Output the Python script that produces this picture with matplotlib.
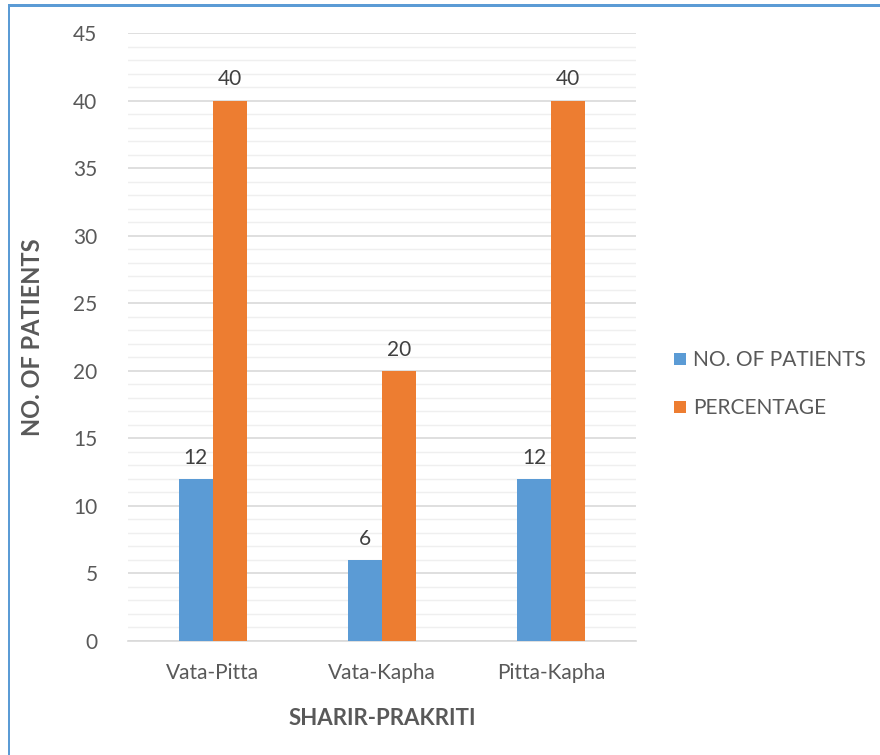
import matplotlib.pyplot as plt
import numpy as np
from matplotlib.patches import Rectangle

plt.rcParams['font.family'] = ['Lato', 'DejaVu Sans']

categories = ['Vata-Pitta', 'Vata-Kapha', 'Pitta-Kapha']
patients = [12, 6, 12]
percentage = [40, 20, 40]
series_names = ['NO. OF PATIENTS', 'PERCENTAGE']

blue = '#5b9bd5'
orange = '#ed7d31'
text_grey = '#595959'

fig = plt.figure(figsize=(8.8, 7.55), dpi=100)
ax = fig.add_axes([128 / 880, 1 - 641 / 755, (636 - 128) / 880, (641 - 33) / 755])

x = np.arange(len(categories))
w = 0.2
b1 = ax.bar(x - w / 2, patients, w, color=blue, label=series_names[0], zorder=3)
b2 = ax.bar(x + w / 2, percentage, w, color=orange, label=series_names[1], zorder=3)

for bars, vals in ((b1, patients), (b2, percentage)):
    for r, v in zip(bars, vals):
        ax.annotate(str(v), (r.get_x() + r.get_width() / 2, v), xytext=(0, 8),
                    textcoords='offset points', ha='center', va='bottom',
                    fontsize=15, color='#404040')

ax.set_xlim(-0.5, 2.5)
ax.set_ylim(0, 45)
ax.set_yticks(np.arange(0, 46, 5))
ax.set_yticks(np.arange(0, 46, 1), minor=True)
ax.set_xticks(x)
ax.set_xticklabels(categories)
ax.grid(axis='y', which='major', color='#d9d9d9', linewidth=1.2, zorder=0)
ax.grid(axis='y', which='minor', color='#efefef', linewidth=1.0, zorder=0)
ax.tick_params(axis='both', which='both', length=0, labelsize=15, colors=text_grey)
ax.tick_params(axis='y', pad=22)
ax.tick_params(axis='x', pad=16)
for s in ('top', 'right', 'left'):
    ax.spines[s].set_visible(False)
ax.spines['bottom'].set_color('#d9d9d9')
ax.spines['bottom'].set_linewidth(1.2)

ax.set_ylabel('NO. OF PATIENTS', fontsize=17, fontweight='bold', color=text_grey)
ax.yaxis.set_label_coords(-0.165, 0.5)
ax.set_xlabel('SHARIR-PRAKRITI', fontsize=16, fontweight='bold', color=text_grey)
ax.xaxis.set_label_coords(0.5, -0.11)

fig.legend(handles=[b1, b2], loc='upper left', bbox_to_anchor=(668 / 880, 1 - 344 / 755),
           frameon=False, fontsize=15, labelcolor=text_grey, handlelength=0.55,
           handleheight=0.55, handletextpad=0.35, labelspacing=1.35, borderaxespad=0,
           borderpad=0.3)

# chart frame on the left and top edges
fig.add_artist(Rectangle((7.5 / 880, -0.01), 2.5 / 880, 1 - 5 / 755 + 0.01, transform=fig.transFigure,
                         color=blue, lw=0))
fig.add_artist(Rectangle((7.5 / 880, 1 - 7 / 755), 1, 2.5 / 755, transform=fig.transFigure,
                         color=blue, lw=0))

fig.savefig('out.png', dpi=100)
